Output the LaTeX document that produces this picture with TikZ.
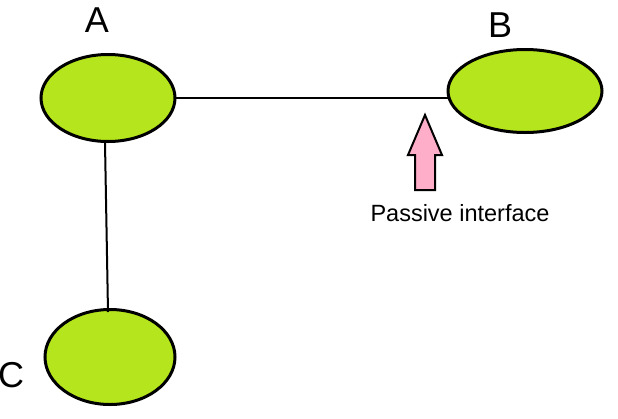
\documentclass[tikz,border=0pt]{standalone}
\usepackage{fontspec}
\setmainfont{Liberation Sans}
\usetikzlibrary{shapes.geometric}
\definecolor{lime}{HTML}{B5E61D}
\definecolor{pinkish}{HTML}{FFAEC9}
\begin{document}
\begin{tikzpicture}[x=1pt,y=-1pt,
  router/.style={ellipse,draw=black,line width=3pt,fill=lime,inner sep=0pt},
  lbl/.style={font=\fontsize{36}{40}\selectfont,inner sep=0pt},
  link/.style={line width=2pt}]
\useasboundingbox (0,0) rectangle (618,418);
\node[router,minimum width=134pt,minimum height=87pt] (A) at (108,98) {};
\node[router,minimum width=154pt,minimum height=83pt] (B) at (525,91) {};
\node[router,minimum width=130pt,minimum height=95pt] (C) at (110,357) {};
\node[lbl] (la) at (97,20) {A};
\node[lbl] (lb) at (500,25) {B};
\node[lbl] (lc) at (11,375) {C};
\node[font=\fontsize{23.5}{27}\selectfont,inner sep=0pt] (cap) at (460,213) {Passive interface};
\coordinate (ar) at (176,98);
\coordinate (bl) at (448,98);
\draw[link] (ar) -- (bl);
\draw[link] (A.south) ++(-3,0) coordinate (as) -- (108,312) coordinate (ct);
\draw[line width=2pt,fill=pinkish] (425,115) -- (442,155) -- (435,155) -- (435,190) -- (415,190) -- (415,155) -- (408,155) -- cycle;
\end{tikzpicture}
\end{document}
